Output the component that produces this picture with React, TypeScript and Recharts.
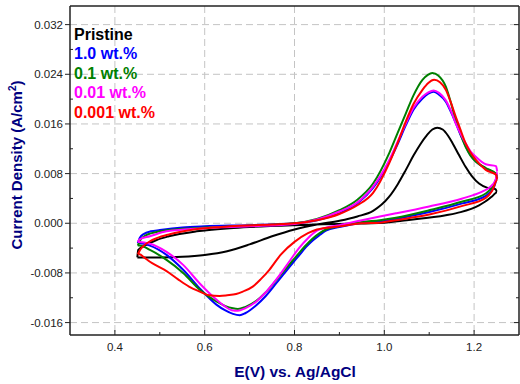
import { LineChart, Line, XAxis, YAxis, CartesianGrid } from 'recharts';

// potential (V) and current density (A/cm2), forward then reverse scan
const PRISTINE_FWD = [
  [0.45, -0.0055], [0.5, -0.0055], [0.55, -0.0054], [0.6, -0.0051], [0.65, -0.0045],
  [0.7, -0.0034], [0.75, -0.0021], [0.8, -0.001], [0.85, -0.0002], [0.9, 0.0004],
  [0.94, 0.0011], [0.975, 0.002], [1.01, 0.0042], [1.03, 0.0063], [1.048, 0.0086],
  [1.065, 0.0109], [1.08, 0.0127], [1.095, 0.0142], [1.107, 0.0151], [1.118, 0.0154],
  [1.13, 0.0151], [1.142, 0.0141], [1.152, 0.0129], [1.167, 0.0109], [1.181, 0.0091],
  [1.195, 0.0076], [1.211, 0.0064], [1.23, 0.0057], [1.248, 0.0055],
];
const PRISTINE_REV = [
  [1.251, 0.005], [1.241, 0.0044], [1.225, 0.0035], [1.211, 0.0029], [1.17, 0.0018],
  [1.137, 0.0013], [1.05, 0.0005], [1.0, 0.0001], [0.9, -0.0001], [0.8, -0.0003],
  [0.7, -0.0006], [0.656, -0.0008], [0.582, -0.0013], [0.52, -0.0021], [0.493, -0.0027],
  [0.47, -0.0035], [0.452, -0.0043],
];

const WT1_FWD = [
  [0.451, -0.0032], [0.455, -0.0024], [0.465, -0.0017], [0.48, -0.0013], [0.5, -0.0011],
  [0.55, -0.0007], [0.6, -0.0005], [0.7, -0.0003], [0.8, 0.0], [0.85, 0.0005],
  [0.9, 0.0016], [0.94, 0.0032], [0.975, 0.0057], [1.01, 0.0098], [1.03, 0.0128],
  [1.048, 0.0158], [1.065, 0.0183], [1.085, 0.0201], [1.098, 0.0209], [1.11, 0.0212],
  [1.122, 0.0207], [1.137, 0.0196], [1.148, 0.018], [1.16, 0.016], [1.17, 0.0142],
  [1.181, 0.0125], [1.19, 0.0112], [1.204, 0.01], [1.226, 0.0088], [1.249, 0.0079],
];
const WT1_REV = [
  [1.252, 0.0072], [1.244, 0.0058], [1.226, 0.0044], [1.174, 0.0032], [1.1, 0.0018],
  [1.026, 0.0007], [0.99, 0.0003], [0.95, 0.0001], [0.9, -0.0006], [0.87, -0.0012],
  [0.856, -0.0019], [0.84, -0.0028], [0.826, -0.0038], [0.81, -0.0052], [0.796, -0.0064],
  [0.759, -0.0097], [0.735, -0.0118], [0.715, -0.0132], [0.69, -0.0145], [0.678, -0.0148],
  [0.663, -0.0146], [0.645, -0.014], [0.626, -0.0131], [0.589, -0.0105], [0.552, -0.0075],
  [0.515, -0.0051], [0.478, -0.0036], [0.455, -0.0032],
];

const WT01_FWD = [
  [0.451, -0.0036], [0.455, -0.0029], [0.47, -0.0019], [0.5, -0.0013], [0.55, -0.0009],
  [0.6, -0.0007], [0.7, -0.0004], [0.8, 0.0], [0.85, 0.0007], [0.9, 0.0021],
  [0.94, 0.0038], [0.975, 0.0064], [1.011, 0.0113], [1.03, 0.0146], [1.048, 0.0177],
  [1.065, 0.0206], [1.085, 0.0231], [1.097, 0.0239], [1.107, 0.0242], [1.12, 0.0238],
  [1.137, 0.022], [1.148, 0.0195], [1.159, 0.0166], [1.17, 0.0143], [1.181, 0.0123],
  [1.192, 0.0109], [1.204, 0.0099], [1.226, 0.0089], [1.249, 0.008],
];
const WT01_REV = [
  [1.252, 0.0075], [1.244, 0.0062], [1.226, 0.0048], [1.174, 0.0035], [1.1, 0.0021],
  [1.026, 0.0009], [0.99, 0.0005], [0.95, 0.0002], [0.9, -0.0005], [0.87, -0.001],
  [0.856, -0.0016], [0.84, -0.0025], [0.826, -0.0035], [0.81, -0.0048], [0.796, -0.006],
  [0.759, -0.0092], [0.735, -0.0112], [0.715, -0.0125], [0.69, -0.0135], [0.674, -0.0138],
  [0.663, -0.0137], [0.645, -0.0133], [0.626, -0.0126], [0.589, -0.0107], [0.552, -0.008],
  [0.515, -0.0059], [0.478, -0.0043], [0.455, -0.0036],
];

const WT001_FWD = [
  [0.451, -0.003], [0.455, -0.0026], [0.478, -0.0021], [0.515, -0.0013], [0.6, -0.0008],
  [0.7, -0.0005], [0.8, -0.0001], [0.85, 0.0006], [0.9, 0.0019], [0.937, 0.0032],
  [0.975, 0.0059], [1.011, 0.0102], [1.03, 0.0132], [1.048, 0.0161], [1.065, 0.0186],
  [1.085, 0.0204], [1.098, 0.0211], [1.11, 0.0214], [1.122, 0.021], [1.137, 0.0198],
  [1.148, 0.0182], [1.159, 0.0161], [1.17, 0.0144], [1.181, 0.0129], [1.192, 0.0116],
  [1.204, 0.0107], [1.226, 0.0095], [1.249, 0.0092],
];
const WT001_REV = [
  [1.252, 0.0083], [1.248, 0.007], [1.235, 0.0058], [1.218, 0.0051], [1.174, 0.004],
  [1.1, 0.0027], [1.026, 0.0016], [0.99, 0.0011], [0.95, 0.0005], [0.9, -0.0003],
  [0.87, -0.0007], [0.85, -0.0012], [0.83, -0.0024], [0.81, -0.004], [0.79, -0.006],
  [0.76, -0.009], [0.735, -0.0112], [0.715, -0.0126], [0.69, -0.0137], [0.674, -0.0141],
  [0.66, -0.014], [0.645, -0.0134], [0.626, -0.0123], [0.589, -0.0097], [0.552, -0.0067],
  [0.515, -0.0046], [0.478, -0.0033], [0.455, -0.003],
];

const WT0001_FWD = [
  [0.451, -0.005], [0.456, -0.0043], [0.463, -0.0037], [0.478, -0.0029], [0.493, -0.0024],
  [0.52, -0.0018], [0.544, -0.0014], [0.6, -0.0008], [0.656, -0.0005], [0.75, -0.0002],
  [0.8, 0.0], [0.85, 0.0005], [0.9, 0.0015], [0.94, 0.0029], [0.975, 0.0049],
  [1.011, 0.0097], [1.03, 0.013], [1.048, 0.0164], [1.065, 0.0192], [1.085, 0.0215],
  [1.098, 0.0226], [1.111, 0.0231], [1.124, 0.0227], [1.137, 0.0215], [1.148, 0.0195],
  [1.159, 0.0172], [1.17, 0.015], [1.181, 0.0129], [1.192, 0.0114], [1.204, 0.0102],
  [1.226, 0.0086], [1.249, 0.0078],
];
const WT0001_REV = [
  [1.252, 0.007], [1.24, 0.0052], [1.226, 0.0041], [1.174, 0.0028], [1.1, 0.0014],
  [1.026, 0.0005], [0.99, 0.0001], [0.95, 0.0], [0.9, -0.0005], [0.85, -0.001],
  [0.83, -0.0016], [0.8, -0.003], [0.77, -0.005], [0.744, -0.0075], [0.725, -0.009],
  [0.707, -0.0102], [0.685, -0.011], [0.67, -0.0114], [0.65, -0.0116], [0.633, -0.0117],
  [0.61, -0.0116], [0.589, -0.011], [0.565, -0.0102], [0.54, -0.009], [0.515, -0.0077],
  [0.495, -0.0069], [0.478, -0.0062], [0.465, -0.0055], [0.455, -0.005],
];

const X_TICKS = [0.4, 0.5, 0.6, 0.7, 0.8, 0.9, 1.0, 1.1, 1.2];
const Y_TICKS = [-0.016, -0.012, -0.008, -0.004, 0, 0.004, 0.008, 0.012, 0.016, 0.02, 0.024, 0.028, 0.032];
const X_GRID = [0.4, 0.6, 0.8, 1.0, 1.2];
const Y_GRID = [-0.016, -0.008, 0, 0.008, 0.016, 0.024, 0.032];

const SERIES = [
  { name: 'Pristine', color: '#000000', fwd: PRISTINE_FWD, rev: PRISTINE_REV },
  { name: '1.0 wt.%', color: '#0000ff', fwd: WT1_FWD, rev: WT1_REV },
  { name: '0.1 wt.%', color: '#008000', fwd: WT01_FWD, rev: WT01_REV },
  { name: '0.01 wt.%', color: '#ff00ff', fwd: WT001_FWD, rev: WT001_REV },
  { name: '0.001 wt.%', color: '#ff0000', fwd: WT0001_FWD, rev: WT0001_REV },
];

const FONT = '"Liberation Sans", Arial, sans-serif';
const AXIS = '#222';
const TITLE = '#000080';

const toLoop = (fwd: number[][], rev: number[][]) =>
  [...fwd, ...rev, fwd[0]].map(([x, y]) => ({ x, y }));

const isMajor = (v: number, step: number) => Math.abs(v / step - Math.round(v / step)) < 1e-6;

function BottomTick({ x, y, payload }: any) {
  const major = isMajor(payload.value, 0.2);
  return (
    <g>
      <line x1={x} x2={x} y1={y} y2={y - (major ? 5 : 3)} stroke={AXIS} />
      {major && (
        <text x={x} y={y + 16} textAnchor="middle" fontSize={11.5} fontFamily={FONT} fill={AXIS}>
          {payload.value.toFixed(1)}
        </text>
      )}
    </g>
  );
}

function TopTick({ x, y, payload }: any) {
  const major = isMajor(payload.value, 0.2);
  return <line x1={x} x2={x} y1={y} y2={y + (major ? 5 : 3)} stroke={AXIS} />;
}

function LeftTick({ x, y, payload }: any) {
  const major = isMajor(payload.value, 0.008);
  return (
    <g>
      {major ? (
        <line x1={x - 5} x2={x} y1={y} y2={y} stroke={AXIS} />
      ) : (
        <line x1={x} x2={x + 3} y1={y} y2={y} stroke={AXIS} />
      )}
      {major && (
        <text x={x - 7} y={y + 4} textAnchor="end" fontSize={11.5} fontFamily={FONT} fill={AXIS}>
          {payload.value.toFixed(3)}
        </text>
      )}
    </g>
  );
}

function RightTick({ x, y, payload }: any) {
  const major = isMajor(payload.value, 0.008);
  return <line x1={x - (major ? 5 : 3)} x2={x} y1={y} y2={y} stroke={AXIS} />;
}

export default function App() {
  return (
    <div style={{ position: 'fixed', left: 0, top: 0, width: 520, height: 384, background: '#fff' }}>
      <LineChart width={520} height={384} margin={{ top: 0, right: 0, bottom: 19, left: 20 }}>
        <CartesianGrid
          stroke="#c4c4c4"
          strokeDasharray="7 4"
          verticalValues={X_GRID}
          horizontalValues={Y_GRID}
        />
        <XAxis
          type="number"
          dataKey="x"
          domain={[0.3, 1.3]}
          ticks={X_TICKS}
          interval={0}
          allowDataOverflow
          height={30}
          tickSize={0}
          tickMargin={0}
          tick={<BottomTick />}
          axisLine={{ stroke: AXIS, strokeWidth: 1.5 }}
        />
        <XAxis
          xAxisId="top"
          orientation="top"
          type="number"
          domain={[0.3, 1.3]}
          ticks={X_TICKS}
          interval={0}
          allowDataOverflow
          height={6}
          tickSize={0}
          tickMargin={0}
          tick={<TopTick />}
          axisLine={{ stroke: AXIS, strokeWidth: 1.5 }}
        />
        <YAxis
          type="number"
          domain={[-0.018, 0.035]}
          ticks={Y_TICKS}
          interval={0}
          allowDataOverflow
          width={50}
          tickSize={0}
          tickMargin={0}
          tick={<LeftTick />}
          axisLine={{ stroke: AXIS, strokeWidth: 1.5 }}
        />
        <YAxis
          yAxisId="right"
          orientation="right"
          type="number"
          domain={[-0.018, 0.035]}
          ticks={Y_TICKS}
          interval={0}
          allowDataOverflow
          width={1}
          tickSize={0}
          tickMargin={0}
          tick={<RightTick />}
          axisLine={{ stroke: AXIS, strokeWidth: 1.5 }}
        />
        {SERIES.map((s) => (
          <Line
            key={s.name}
            data={toLoop(s.fwd, s.rev)}
            dataKey="y"
            name={s.name}
            type="monotone"
            stroke={s.color}
            strokeWidth={2}
            dot={false}
            activeDot={false}
            isAnimationActive={false}
          />
        ))}
      </LineChart>
      <svg
        width={520}
        height={384}
        style={{ position: 'absolute', left: 0, top: 0, pointerEvents: 'none' }}
        fontFamily={FONT}
        fontWeight="bold"
      >
        {SERIES.map((s, i) => (
          <text key={s.name} x={74} y={39.5 + i * 19.5} fontSize={16} fill={s.color}>
            {s.name}
          </text>
        ))}
        <text x={295} y={377} textAnchor="middle" fontSize={15.5} fill={TITLE}>
          E(V) vs. Ag/AgCl
        </text>
        <text transform="translate(22,165) rotate(-90)" textAnchor="middle" fontSize={15} fill={TITLE}>
          Current Density (A/cm
          <tspan dy={-6} fontSize={10}>2</tspan>
          <tspan dy={6}>)</tspan>
        </text>
      </svg>
    </div>
  );
}
